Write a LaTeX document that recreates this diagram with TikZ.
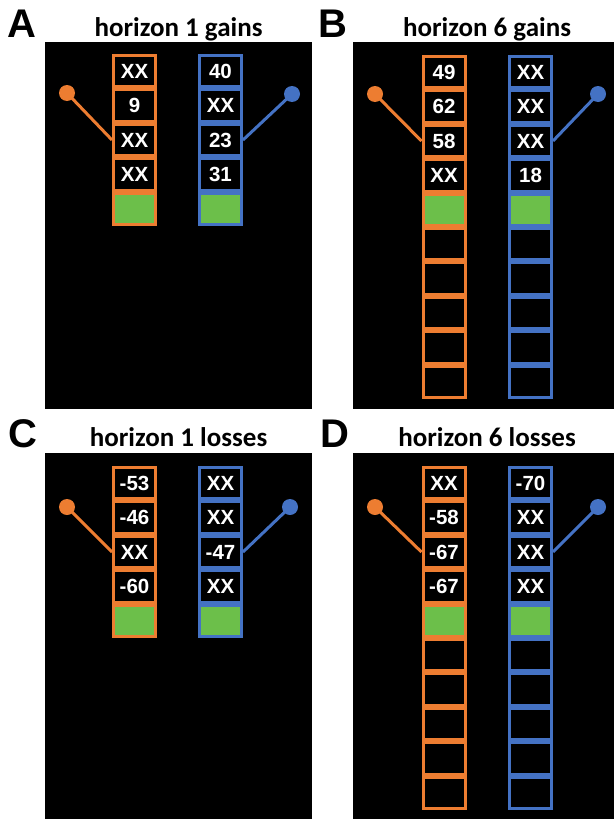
\documentclass[tikz,border=0pt]{standalone}
\usepackage{fontspec}
\setmainfont{Liberation Sans}
\newfontfamily\titlefont{Carlito}
\definecolor{ora}{HTML}{ED7D31}
\definecolor{blu}{HTML}{4472C4}
\definecolor{grn}{HTML}{6CBF4A}
\tikzset{
  panelbg/.style={fill=black},
  cellbase/.style={rectangle, line width=3pt, minimum width=42pt, minimum height=31.4pt, inner sep=0pt,
    text=white, font=\fontsize{20.5}{20.5}\selectfont\bfseries},
  ocell/.style={cellbase, draw=ora},
  bcell/.style={cellbase, draw=blu},
  ogcell/.style={ocell, fill=grn},
  bgcell/.style={bcell, fill=grn},
  odot/.style={circle, fill=ora, minimum size=16pt, inner sep=0pt},
  bdot/.style={circle, fill=blu, minimum size=16pt, inner sep=0pt},
  oline/.style={draw=ora, line width=3pt},
  bline/.style={draw=blu, line width=3pt},
  ptitle/.style={font=\titlefont\fontsize{27}{27}\selectfont\bfseries, anchor=base, inner sep=0pt},
  pletter/.style={font=\fontsize{40}{40}\selectfont\bfseries, anchor=base west, inner sep=0pt},
}
\begin{document}
\begin{tikzpicture}[x=1pt,y=-1pt]
\useasboundingbox (0,0) rectangle (614,819);
\fill[white] (0,0) rectangle (614,819);
% panel backgrounds
\fill[panelbg] (45,42) rectangle (312,409);
\fill[panelbg] (353,42) rectangle (614,409);
\fill[panelbg] (45,453) rectangle (312,819);
\fill[panelbg] (353,453) rectangle (614,819);
% letters and titles
\node[pletter] (LA) at (7,37) {A};
\node[pletter] (LB) at (318,37) {B};
\node[pletter] (LC) at (8,447) {C};
\node[pletter] (LD) at (320,447) {D};
\node[ptitle] (TA) at (178.5,36) {horizon 1 gains};
\node[ptitle] (TB) at (487,36) {horizon 6 gains};
\node[ptitle] (TC) at (178.5,446) {horizon 1 losses};
\node[ptitle] (TD) at (487,446) {horizon 6 losses};
% ---------- Panel A
\foreach \v [count=\i] in {XX,9,XX,XX} {
  \node[ocell] (A-o-\i) at (134.5,{54+17.2+(\i-1)*34.4}) {\v};
}
\foreach \v [count=\i] in {40,XX,23,31} {
  \node[bcell] (A-b-\i) at (220.5,{54+17.2+(\i-1)*34.4}) {\v};
}
\node[ogcell] (A-o-5) at (134.5,{54+17.2+4*34.4}) {};
\node[bgcell] (A-b-5) at (220.5,{54+17.2+4*34.4}) {};
\node[odot] (A-od) at (67,93) {};
\node[bdot] (A-bd) at (292,94) {};
\draw[oline] (A-od.center) -- (A-o-3.west);
\draw[bline] (A-bd.center) -- (A-b-3.east);
% ---------- Panel B
\foreach \v [count=\i] in {49,62,58,XX} {
  \node[ocell] (B-o-\i) at (444,{55+17.2+(\i-1)*34.4}) {\v};
}
\foreach \v [count=\i] in {XX,XX,XX,18} {
  \node[bcell] (B-b-\i) at (530.5,{55+17.2+(\i-1)*34.4}) {\v};
}
\node[ogcell] (B-o-5) at (444,{55+17.2+4*34.4}) {};
\node[bgcell] (B-b-5) at (530.5,{55+17.2+4*34.4}) {};
\foreach \i in {6,...,10} {
  \node[ocell] (B-o-\i) at (444,{55+17.2+(\i-1)*34.4}) {};
  \node[bcell] (B-b-\i) at (530.5,{55+17.2+(\i-1)*34.4}) {};
}
\node[odot] (B-od) at (375,94) {};
\node[bdot] (B-bd) at (598,94) {};
\draw[oline] (B-od.center) -- (B-o-3.west);
\draw[bline] (B-bd.center) -- (B-b-3.east);
% ---------- Panel C
\foreach \v [count=\i] in {-53,-46,XX,-60} {
  \node[ocell] (C-o-\i) at (134.5,{466+17.2+(\i-1)*34.4}) {\v};
}
\foreach \v [count=\i] in {XX,XX,-47,XX} {
  \node[bcell] (C-b-\i) at (220.5,{466+17.2+(\i-1)*34.4}) {\v};
}
\node[ogcell] (C-o-5) at (134.5,{466+17.2+4*34.4}) {};
\node[bgcell] (C-b-5) at (220.5,{466+17.2+4*34.4}) {};
\node[odot] (C-od) at (67,507) {};
\node[bdot] (C-bd) at (290,507) {};
\draw[oline] (C-od.center) -- (C-o-3.west);
\draw[bline] (C-bd.center) -- (C-b-3.east);
% ---------- Panel D
\foreach \v [count=\i] in {XX,-58,-67,-67} {
  \node[ocell] (D-o-\i) at (444,{466+17.2+(\i-1)*34.4}) {\v};
}
\foreach \v [count=\i] in {-70,XX,XX,XX} {
  \node[bcell] (D-b-\i) at (530.5,{466+17.2+(\i-1)*34.4}) {\v};
}
\node[ogcell] (D-o-5) at (444,{466+17.2+4*34.4}) {};
\node[bgcell] (D-b-5) at (530.5,{466+17.2+4*34.4}) {};
\foreach \i in {6,...,10} {
  \node[ocell] (D-o-\i) at (444,{466+17.2+(\i-1)*34.4}) {};
  \node[bcell] (D-b-\i) at (530.5,{466+17.2+(\i-1)*34.4}) {};
}
\node[odot] (D-od) at (375,507) {};
\node[bdot] (D-bd) at (598,507) {};
\draw[oline] (D-od.center) -- (D-o-3.west);
\draw[bline] (D-bd.center) -- (D-b-3.east);
\end{tikzpicture}
\end{document}
